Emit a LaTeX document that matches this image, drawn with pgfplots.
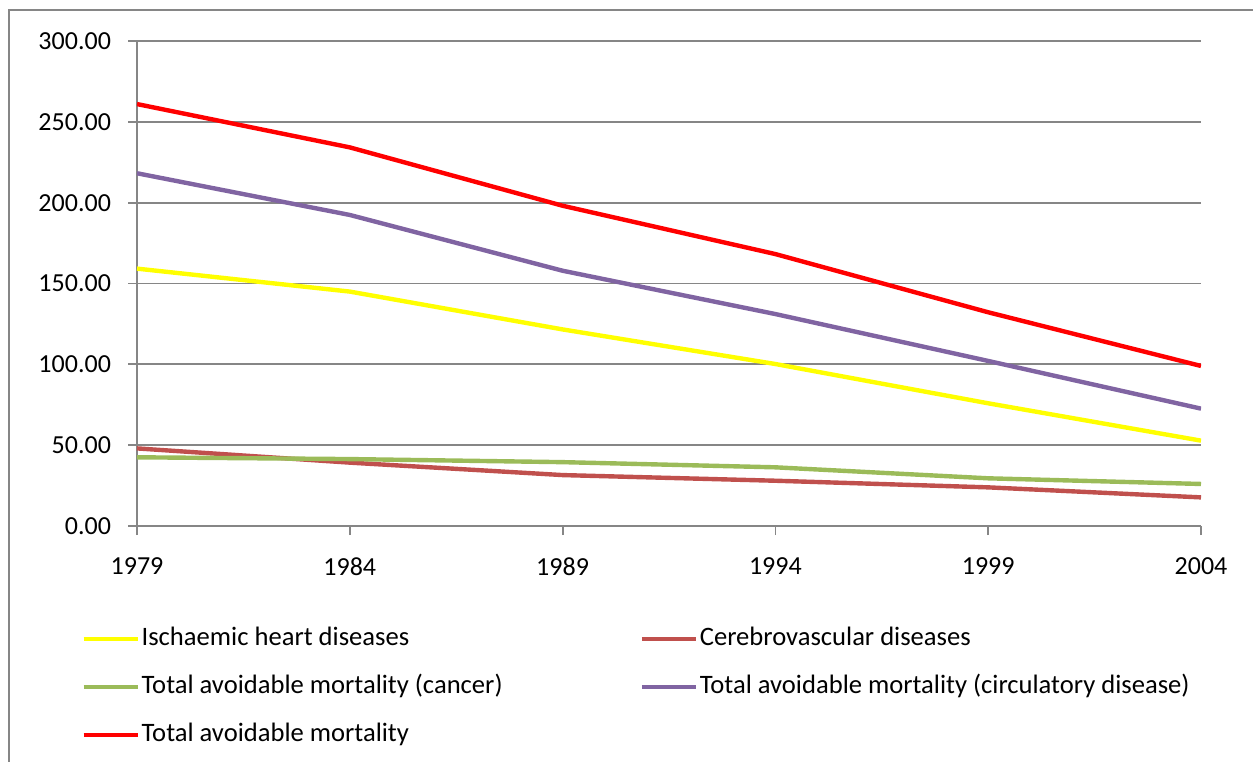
\documentclass[border=0pt]{standalone}
\usepackage{fontspec}
\setmainfont{Carlito}
\usepackage{pgfplots}
\pgfplotsset{compat=1.18}
\definecolor{axgray}{HTML}{868686}
\definecolor{cYellow}{HTML}{FFFF00}
\definecolor{cBrown}{HTML}{C0504D}
\definecolor{cGreen}{HTML}{9BBB59}
\definecolor{cPurple}{HTML}{8064A2}
\definecolor{cRed}{HTML}{FF0000}
\begin{document}
\begin{tikzpicture}
\path[use as bounding box] (0,0) rectangle (626.5pt,380.5pt);
\draw[axgray, line width=1.2pt] (4.5pt,-2pt) -- (4.5pt,375.5pt) -- (630pt,375.5pt);
\begin{axis}[
  at={(68.5pt,117.5pt)}, anchor=south west,
  scale only axis, width=532pt, height=242.5pt,
  xmin=1979, xmax=2004, ymin=0, ymax=300,
  xtick={1979,1984,1989,1994,1999,2004},
  ytick={0,50,100,150,200,250,300},
  axis x line*=bottom, axis y line*=left,
  axis line style={draw=axgray, line width=0.9pt, -},
  ymajorgrids, grid style={axgray, line width=0.9pt},
  tick align=outside, major tick length=4.5pt,
  tick style={axgray, line width=0.9pt},
  /pgf/number format/assume math mode=true,
  tick label style={font=\fontsize{13}{15.6}\selectfont, text=black},
  xticklabel style={/pgf/number format/1000 sep={}, yshift=-8pt},
  yticklabel style={/pgf/number format/.cd, fixed, fixed zerofill, precision=2, /tikz/xshift=-5pt},
  legend columns=2,
  legend cell align=left,
  legend style={at={(axis description cs:-0.0526,-0.208)}, anchor=north west,
    draw=none, fill=none, inner sep=0pt, row sep=12pt,
    font=\fontsize{13.3}{16}\selectfont,
    nodes={inner sep=0pt, text height=9pt, text depth=3pt},
    /tikz/every odd column/.style={column sep=0.9pt},
    /tikz/every even column/.style={column sep=0pt}},
  legend image code/.code={\draw[#1, line cap=butt] (0pt,0pt) -- (27pt,0pt);},
  every axis plot/.append style={line width=2.2pt, line join=round},
]
\addplot[cYellow] coordinates {(1979,159.2) (1984,145.0) (1989,121.6) (1994,100.2) (1999,75.9) (2004,52.8)};
\addlegendentry{\makebox[249pt][l]{Ischaemic heart diseases}}
\addplot[cBrown] coordinates {(1979,48.0) (1984,39.2) (1989,31.5) (1994,28.0) (1999,23.9) (2004,17.7)};
\addlegendentry{Cerebrovascular diseases}
\addplot[cGreen] coordinates {(1979,42.5) (1984,41.4) (1989,39.5) (1994,36.3) (1999,29.5) (2004,26.0)};
\addlegendentry{\makebox[249pt][l]{Total avoidable mortality (cancer)}}
\addplot[cPurple] coordinates {(1979,218.2) (1984,192.4) (1989,157.9) (1994,131.1) (1999,102.1) (2004,72.6)};
\addlegendentry{Total avoidable mortality (circulatory disease)}
\addplot[cRed] coordinates {(1979,261.0) (1984,234.2) (1989,198.1) (1994,168.2) (1999,132.2) (2004,99.0)};
\addlegendentry{\makebox[249pt][l]{Total avoidable mortality}}
\end{axis}
\end{tikzpicture}
\end{document}
